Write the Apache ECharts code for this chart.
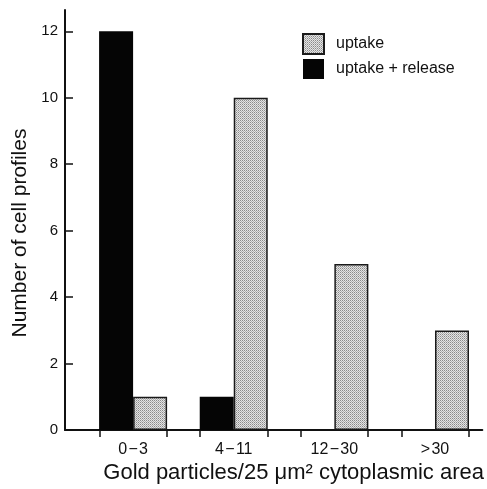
<!DOCTYPE html>
<html><head><meta charset="utf-8">
<script src="https://cdn.jsdelivr.net/npm/echarts@6/dist/echarts.min.js"></script>
<style>html,body{margin:0;padding:0;background:#fff}#c{width:487px;height:489px}</style>
</head><body><div id="c"></div>
<script>
const categories = ['0\u200a\u2212\u200a3', '4\u200a\u2212\u200a11', '12\u200a\u2212\u200a30', '>\u200a30'];
const uptakeRelease = [12, 1, 0, 0];
const uptake = [1, 10, 5, 3];
const yTicks = [0, 2, 4, 6, 8, 10, 12];
const seriesNames = ['uptake', 'uptake + release'];

// group centre on the value x-axis (one bar = one unit)
const centre = i => 3 * i + 2.03;
const groupEdges = [];
categories.forEach((c, i) => { groupEdges.push(centre(i) - 1, centre(i) + 1); });

// stipple pattern for grey bars
const pat = document.createElement('canvas');
pat.width = 2; pat.height = 2;
const g = pat.getContext('2d');
g.fillStyle = '#e4e4e4'; g.fillRect(0, 0, 2, 2);
g.fillStyle = '#8a8a8a'; g.fillRect(0, 0, 1, 1);
g.fillStyle = '#b0b0b0'; g.fillRect(1, 1, 1, 1);

const font = 'Liberation Sans';
const chart = echarts.init(document.getElementById('c'), null, {renderer: 'canvas'});
chart.setOption({
  animation: false,
  backgroundColor: '#fff',
  textStyle: {fontFamily: font, color: '#111'},
  grid: {left: 65, right: 0, top: 10, bottom: 55},
  legend: {
    orient: 'vertical', left: 302, top: 33, padding: 0, itemWidth: 21, itemHeight: 20, itemGap: 4,
    icon: 'rect', data: seriesNames,
    textStyle: {fontFamily: font, fontSize: 16, color: '#111', padding: [0, 0, 0, 7]}
  },
  xAxis: {
    type: 'value', min: 0, max: 12.44,
    axisLine: {show: true, lineStyle: {color: '#111', width: 2}},
    axisTick: {show: true, length: 7, lineStyle: {color: '#111', width: 1.5}, customValues: groupEdges},
    axisLabel: {customValues: categories.map((c, i) => centre(i)), margin: 11, fontSize: 16, color: '#111', fontFamily: font,
      formatter: v => categories[Math.round((v - 2.03) / 3)]},
    splitLine: {show: false},
    name: 'Gold particles/25 \u03bcm\u00b2 cytoplasmic area', nameLocation: 'middle', nameGap: 28,
    nameTextStyle: {fontSize: 22, color: '#111', fontFamily: font, padding: [0, 0, 0, 40]}
  },
  yAxis: {
    type: 'value', min: 0, max: 12.64,
    axisLine: {show: true, lineStyle: {color: '#111', width: 2}},
    axisTick: {show: true, inside: true, length: 8, lineStyle: {color: '#111', width: 1.5}, customValues: yTicks},
    axisLabel: {customValues: yTicks, margin: 7, fontSize: 15, color: '#111', fontFamily: font},
    splitLine: {show: false},
    name: 'Number of cell profiles', nameLocation: 'middle', nameGap: 25, nameRotate: 90,
    nameTextStyle: {fontSize: 21, color: '#111', fontFamily: font, padding: [0, 26, 0, 0]}
  },
  series: [
    {
      name: seriesNames[1], type: 'bar', barWidth: 34, barGap: '0%',
      itemStyle: {color: '#050505', borderColor: '#050505', borderWidth: 0},
      data: uptakeRelease.map((v, i) => [centre(i), v])
    },
    {
      name: seriesNames[0], type: 'bar', barWidth: 34, barGap: '0%',
      itemStyle: {color: {image: pat, repeat: 'repeat'}, borderColor: '#1a1a1a', borderWidth: 1.5},
      data: uptake.map((v, i) => [centre(i), v])
    }
  ]
});
</script></body></html>
